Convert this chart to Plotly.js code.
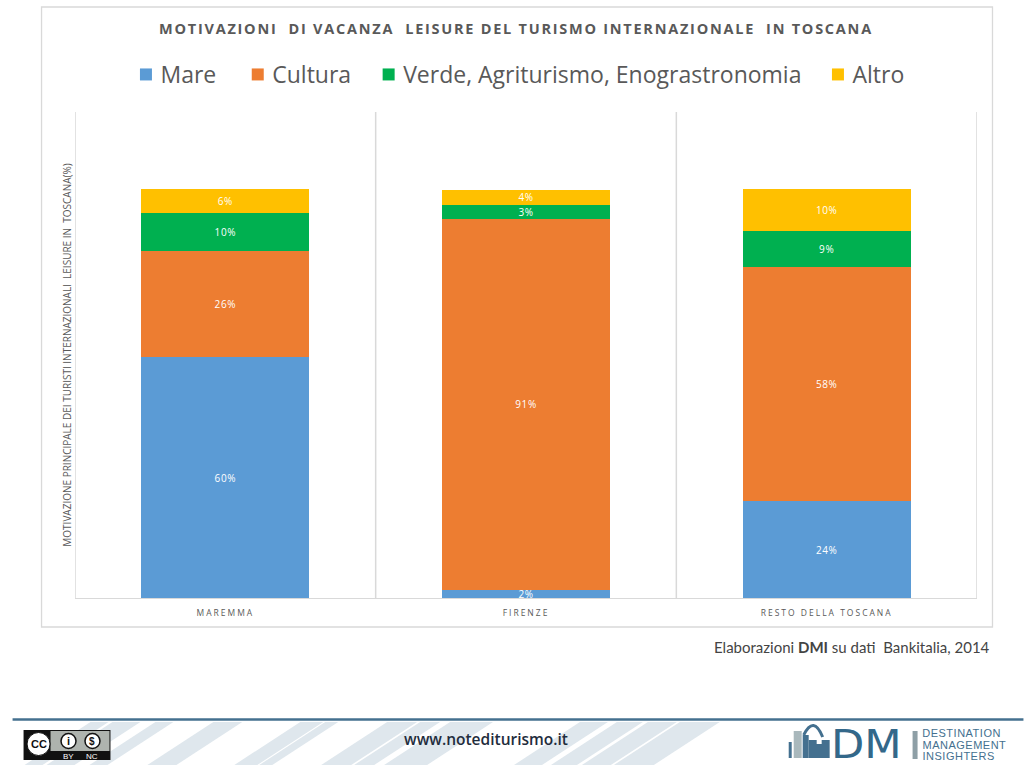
<!DOCTYPE html>
<html>
<head>
<meta charset="utf-8">
<script src="https://cdn.plot.ly/plotly-3.0.1.min.js"></script>
<style>
html,body{margin:0;padding:0;background:#fff;overflow:hidden}
.gtitle{letter-spacing:1.75px}
.xtick text{letter-spacing:2px}
.bars .point text, .bartext{letter-spacing:.6px;translate:.5px 1px}
.legend .scrollbox{clip-path:none}
.legend .traces .layers{translate:5.5px 0}
.legend .traces:nth-child(2){translate:11px 0}
.legend .traces:nth-child(3){translate:18px 0}
.legend .traces:nth-child(4){translate:24px 0}
g.annotation[data-index="7"] text{scale:1.11 1;transform-box:fill-box;transform-origin:0 50%}
g.annotation[data-index="8"] text,
g.annotation[data-index="9"] text,
g.annotation[data-index="10"] text{letter-spacing:.5px}
</style>
</head>
<body>
<div id="chart" style="width:1024px;height:768px"></div>
<script>
const categories = ['MAREMMA', 'FIRENZE', 'RESTO DELLA TOSCANA'];
const mareValues = [58.9, 2.0, 23.7];
const culturaValues = [25.9, 90.7, 57.2];
const verdeValues = [9.3, 3.4, 8.8];
const altroValues = [5.9, 3.7, 10.3];
const mareLabels = ['60%', '2%', '24%'];
const culturaLabels = ['26%', '91%', '58%'];
const verdeLabels = ['10%', '3%', '9%'];
const altroLabels = ['6%', '4%', '10%'];
const seriesNames = ['Mare', 'Cultura', 'Verde, Agriturismo, Enograstronomia', 'Altro'];
const seriesColors = ['#5B9BD5', '#ED7D31', '#00B050', '#FFC000'];

const L = 74.5, R = 977.5, T = 112, B = 598;
const px = x => (x - L) / (R - L);
const py = y => (B - y) / (B - T);
const FONT = '"Open Sans", sans-serif';
const GREY = '#D9D9D9', BLUE = '#44708F';

function trace(i, values, labels) {
  return {
    type: 'bar', name: seriesNames[i], x: categories, y: values,
    text: labels, textposition: 'inside', insidetextanchor: 'middle',
    textangle: 0, constraintext: 'none', cliponaxis: false,
    textfont: {family: FONT, size: 10, color: '#FFFFFF'},
    marker: {color: seriesColors[i], line: {width: 0}},
    hoverinfo: 'x+y+name'
  };
}
const data = [
  trace(0, mareValues, mareLabels),
  trace(1, culturaValues, culturaLabels),
  trace(2, verdeValues, verdeLabels),
  trace(3, altroValues, altroLabels)
];

function rect(x0, y0, x1, y1, fill, line, lw) {
  return {type: 'rect', xref: 'paper', yref: 'paper', layer: 'below',
    x0: px(x0), x1: px(x1), y0: py(y0), y1: py(y1),
    fillcolor: fill, line: {color: line || fill, width: lw === undefined ? 0 : lw}};
}
function circle(cx, cy, r, fill, line, lw) {
  return {type: 'circle', xref: 'paper', yref: 'paper', layer: 'above',
    x0: px(cx - r), x1: px(cx + r), y0: py(cy + r), y1: py(cy - r),
    fillcolor: fill, line: {color: line, width: lw}};
}
function stripe(a, b) {
  const s = 66, yt = 722, yb = 765;
  return {type: 'path', xref: 'paper', yref: 'paper', layer: 'below', line: {width: 0},
    fillcolor: '#DFE7ED',
    path: `M${px(a)},${py(yt)} L${px(b)},${py(yt)} L${px(b - s)},${py(yb)} L${px(a - s)},${py(yb)} Z`};
}
function note(x, y, text, size, color, anchor, family, extra) {
  return Object.assign({xref: 'paper', yref: 'paper', x: px(x), y: py(y), text: text,
    showarrow: false, xanchor: anchor || 'center', yanchor: 'middle',
    font: {family: family || FONT, size: size, color: color}}, extra || {});
}
function gridLine(x) {
  return {type: 'line', xref: 'x', yref: 'paper', layer: 'below', x0: x, x1: x, y0: 0, y1: 1,
    line: {color: GREY, width: 1.5}};
}

const stripes = [[90,108],[112,140],[155,173],[213,242],[300,323],[325,338],[387,417],
  [420,440],[450,493],[580,608],[617,643],[648,677],[680,720]].map(s => stripe(s[0], s[1]));

const above = s => Object.assign(s, {layer: 'above'});
const shapes = [
  rect(41, 7, 993, 627, '#FFFFFF', GREY, 1.3),
  gridLine(-0.5), gridLine(0.5), gridLine(1.5), gridLine(2.5),
  ...stripes,
  {type: 'line', xref: 'paper', yref: 'paper', layer: 'below', x0: px(12), x1: px(1024), y0: py(719.5), y1: py(719.5),
    line: {color: BLUE, width: 2.5}},
  // CC badge
  rect(23, 730, 110, 760, '#111111'),
  above(rect(50, 731, 109, 751, '#AEB3AE')),
  circle(38, 744, 11.5, '#FFFFFF', '#111111', 1),
  circle(68, 741, 7.5, '#FFFFFF', '#111111', 1.5),
  circle(92, 741, 7.5, '#FFFFFF', '#111111', 1.5),
  // DMI logo
  above(rect(789, 742, 792, 758, BLUE)),
  above(rect(794, 731, 802, 758, '#A9B8BC')),
  above(rect(803, 735, 809, 758, BLUE)),
  above(rect(809, 740, 830, 758, BLUE)),
  above(rect(817, 738, 822, 744, '#FFFFFF')),
  {type: 'path', xref: 'paper', yref: 'paper', layer: 'above', line: {color: BLUE, width: 3},
    path: `M${px(804)},${py(735)} Q${px(814)},${py(715)} ${px(823)},${py(737)}`},
  above(rect(913, 731, 918, 759, '#8E9FA6'))
];

const annotations = [
  note(993, 647, 'Elaborazioni <b>DMI</b> su dati \u00a0Bankitalia, 2014', 15, '#444444', 'right', 'Lato, sans-serif'),
  note(486, 739, 'www.notediturismo.it', 15.5, '#1F2D3D', 'center', FONT, {font: {family: FONT, size: 15.5, color: '#1F2D3D', weight: 600}}),
  note(38, 744, '<b>CC</b>', 11, '#111111', 'center', 'Liberation Sans, sans-serif'),
  note(68, 741, '<b>i</b>', 11, '#111111', 'center', 'Liberation Sans, sans-serif'),
  note(92, 741, '<b>$</b>', 10, '#111111', 'center', 'Liberation Sans, sans-serif'),
  note(68, 756, 'BY', 8, '#FFFFFF', 'center', 'Liberation Sans, sans-serif'),
  note(92, 756, 'NC', 8, '#FFFFFF', 'center', 'Liberation Sans, sans-serif'),
  note(829, 744, 'DM', 39, '#33688A', 'left', 'DejaVu Sans, sans-serif'),
  note(923, 733, 'DESTINATION', 11, BLUE, 'left', 'Liberation Sans, sans-serif'),
  note(923, 745, 'MANAGEMENT', 11, BLUE, 'left', 'Liberation Sans, sans-serif'),
  note(923, 756, 'INSIGHTERS', 11, BLUE, 'left', 'Liberation Sans, sans-serif')
];

const layout = {
  width: 1024, height: 768, autosize: false,
  paper_bgcolor: '#FFFFFF', plot_bgcolor: 'rgba(0,0,0,0)',
  margin: {l: L, r: 1024 - R, t: T, b: 768 - B, pad: 0},
  barmode: 'stack', bargap: 0.442, showlegend: true,
  font: {family: FONT, color: '#595959'},
  title: {
    text: '<b>MOTIVAZIONI \u00a0DI VACANZA \u00a0LEISURE DEL TURISMO INTERNAZIONALE \u00a0IN TOSCANA</b>',
    x: 516 / 1024, xref: 'container', xanchor: 'center',
    y: 1 - 29 / 768, yref: 'container', yanchor: 'middle',
    font: {family: FONT, size: 14.5, color: '#595959'}
  },
  legend: {
    orientation: 'h', x: px(120), xanchor: 'left', xref: 'paper',
    y: py(74.5), yanchor: 'middle', yref: 'paper',
    traceorder: 'normal', font: {family: FONT, size: 23, color: '#595959'},
    bgcolor: 'rgba(0,0,0,0)'
  },
  xaxis: {
    type: 'category', categoryorder: 'array', categoryarray: categories,
    range: [-0.5, 2.5], showgrid: false, zeroline: false,
    showline: true, linecolor: GREY, linewidth: 1.3,
    ticks: 'outside', ticklen: 6, tickcolor: 'rgba(0,0,0,0)',
    tickfont: {family: FONT, size: 8.5, color: '#595959'}
  },
  yaxis: {
    range: [0, 118.8], showgrid: false, zeroline: false, showline: false,
    showticklabels: false, ticks: '',
    title: {text: 'MOTIVAZIONE PRINCIPALE DEI TURISTI INTERNAZIONALI \u00a0LEISURE IN \u00a0TOSCANA(%)',
      font: {family: FONT, size: 10, color: '#595959'}, standoff: 0}
  },
  shapes: shapes,
  annotations: annotations
};

Plotly.newPlot('chart', data, layout, {displayModeBar: false, staticPlot: true});
</script>
</body>
</html>
